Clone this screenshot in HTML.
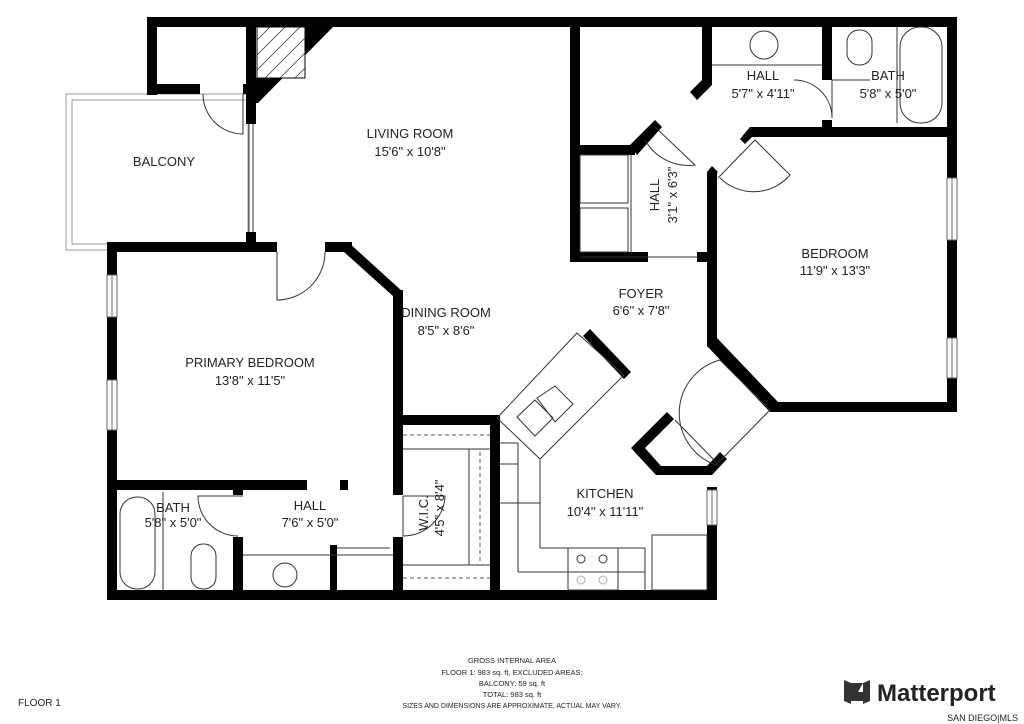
<!DOCTYPE html>
<html><head><meta charset="utf-8"><style>
html,body{margin:0;padding:0;background:#fff;width:1024px;height:724px;overflow:hidden}
svg{display:block}
text{font-family:"Liberation Sans",sans-serif;fill:#222}
</style></head><body>
<svg width="1024" height="724" viewBox="0 0 1024 724" xmlns="http://www.w3.org/2000/svg">
<!-- balcony outline -->
<g fill="none" stroke="#999" stroke-width="1">
<rect x="66" y="94" width="182" height="156"/>
<rect x="72" y="100" width="176" height="144"/>
</g>
<rect x="67" y="95" width="4" height="154" fill="#fff"/>
<g fill="#000">
<!-- top wall -->
<rect x="147" y="17" width="810" height="10"/>
<!-- top-left box -->
<rect x="147" y="17" width="10" height="78"/>
<rect x="147" y="84" width="53" height="10"/>
<rect x="243" y="84" width="13" height="10"/>
<rect x="246" y="17" width="10" height="107"/>
<polygon points="305,27 333,27 258,103 256,103 256,78 283,78"/>
<rect x="246" y="232" width="10" height="18"/>
<!-- primary bedroom top wall -->
<rect x="107" y="242" width="170" height="10"/>
<rect x="325" y="242" width="27" height="10"/>
<polygon points="348,242 403,292 403,300 393,300 393,296 344,252"/>
<rect x="393" y="290" width="10" height="200"/>
<!-- left wall -->
<rect x="107" y="242" width="10" height="358"/>
<!-- bottom wall -->
<rect x="107" y="590" width="610" height="10"/>
<!-- primary bedroom bottom -->
<rect x="107" y="480" width="200" height="10"/>
<rect x="340" y="480" width="8" height="10"/>
<!-- bath/hall divider -->
<rect x="233" y="490" width="10" height="5"/>
<rect x="233" y="537" width="10" height="55"/>
<!-- hall/wic -->
<rect x="393" y="480" width="10" height="15"/>
<rect x="393" y="537" width="10" height="55"/>
<rect x="330" y="545" width="7" height="47"/>
<!-- WIC -->
<rect x="398" y="415" width="99" height="10"/>
<rect x="490" y="415" width="10" height="180"/>
<!-- kitchen right -->
<rect x="707" y="487" width="10" height="113"/>
<!-- pantry -->
<polygon points="667,412 674,419 645,448 661,466 707,466 720,452 727,459 712,475 656,475 631,448"/>
<!-- bedroom -->
<rect x="707" y="172" width="10" height="168"/>
<polygon points="707,338 717,338 778,402 778,412 770,412 707,346"/>
<rect x="770" y="402" width="187" height="10"/>
<rect x="947" y="17" width="10" height="395"/>
<rect x="750" y="127" width="207" height="10"/>
<polygon points="750,127 758,127 758,137 752,137 745,144 740,139"/>
<polygon points="707,172 717,172 717,182 707,182"/>
<polygon points="707,172 712,166 718,172 712,178"/>
<!-- hall top area -->
<rect x="570" y="17" width="10" height="245"/>
<rect x="570" y="145" width="65" height="10"/>
<polygon points="630,145 655,120 662,127 637,155"/>
<polygon points="690,92 702,80 702,72 712,72 712,85 697,100"/>
<rect x="702" y="17" width="10" height="65"/>
<rect x="822" y="17" width="10" height="63"/>
<rect x="822" y="120" width="10" height="17"/>
<rect x="570" y="252" width="78" height="10"/>
<rect x="697" y="252" width="20" height="10"/>
<!-- island end -->
<polygon points="583,336 590,329 631,372 624,379"/>
</g>
<!-- fireplace hatch -->
<rect x="257" y="27" width="48" height="51" fill="#fff" stroke="#000"/>
<g stroke="#333" stroke-width="0.8">
<line x1="257" y1="40" x2="270" y2="27"/><line x1="257" y1="55" x2="285" y2="27"/><line x1="257" y1="70" x2="300" y2="27"/><line x1="265" y1="78" x2="305" y2="38"/><line x1="280" y1="78" x2="305" y2="53"/><line x1="295" y1="78" x2="305" y2="68"/>
</g>
<!-- windows -->
<g fill="#fff" stroke="#666" stroke-width="1">
<rect x="107" y="275" width="10" height="42"/><rect x="107" y="380" width="10" height="50"/>
<rect x="947" y="178" width="10" height="62"/><rect x="947" y="338" width="10" height="40"/>
<rect x="707" y="490" width="10" height="35"/>
</g>
<g stroke="#666" stroke-width="1">
<line x1="112" y1="275" x2="112" y2="317"/><line x1="112" y1="380" x2="112" y2="430"/>
<line x1="952" y1="178" x2="952" y2="240"/><line x1="952" y1="338" x2="952" y2="378"/>
<line x1="712" y1="490" x2="712" y2="525"/>
</g>
<!-- thin lines / doors -->
<g fill="none" stroke="#333" stroke-width="1">
<line x1="249" y1="124" x2="249" y2="232"/><line x1="253" y1="124" x2="253" y2="232"/>
<path d="M243,94 V134 A40,40 0 0 1 203,94"/>
<path d="M277,252 V300 A48,48 0 0 0 325,252"/>
<path d="M243,496 H198 A40,40 0 0 0 238,536"/>
<path d="M403,496 V536 A42,42 0 0 0 445,496 H403"/>
<path d="M832,80 V118 A38,38 0 0 0 794,80"/>
<line x1="832" y1="80" x2="870" y2="80"/>
<path d="M655,127 L695,165 A50,50 0 0 1 645,140"/>
<path d="M718,178 L755,140 L790,175 A48,48 0 0 1 720,178"/>
<path d="M716,465 L770,410 L720,360 A55,55 0 0 0 716,465"/>
<line x1="675" y1="420" x2="716" y2="462"/>
<!-- island -->
<polygon points="577,333 624,375 540,459 497,418"/>
<polygon points="537,398 555,386 573,404 555,422"/>
<polygon points="517,417 535,400 553,418 535,436"/>
<!-- hall top -->
<line x1="712" y1="65" x2="822" y2="65"/>
<circle cx="764" cy="45" r="14"/>
<!-- bath top -->
<rect x="847" y="30" width="25" height="35" rx="12"/>
<rect x="900" y="27" width="42" height="96" rx="20"/>
<line x1="897" y1="27" x2="897" y2="123"/>
<!-- closets -->
<rect x="580" y="155" width="48" height="48"/><rect x="580" y="208" width="48" height="44"/>
<line x1="631" y1="155" x2="631" y2="252"/>
<line x1="580" y1="257" x2="697" y2="257"/>
<!-- primary bath -->
<rect x="120" y="497" width="35" height="92" rx="17"/>
<line x1="163" y1="492" x2="163" y2="590"/>
<rect x="191" y="544" width="25" height="45" rx="12"/>
<line x1="243" y1="555" x2="393" y2="555"/>
<circle cx="285" cy="575" r="12"/>
<line x1="337" y1="548" x2="390" y2="548"/>
<!-- WIC shelves -->
<line x1="403" y1="449" x2="490" y2="449"/><line x1="403" y1="565" x2="490" y2="565"/>
<line x1="469" y1="449" x2="469" y2="565"/>
<!-- kitchen -->
<line x1="500" y1="443" x2="518" y2="443"/>
<line x1="518" y1="443" x2="518" y2="572"/>
<line x1="540" y1="460" x2="540" y2="548"/>
<line x1="500" y1="464" x2="518" y2="464"/>
<line x1="500" y1="503" x2="540" y2="503"/>
<line x1="540" y1="548" x2="645" y2="548"/>
<line x1="518" y1="572" x2="645" y2="572"/>
<line x1="645" y1="548" x2="645" y2="590"/>
<rect x="568" y="548" width="50" height="42"/>
<rect x="652" y="535" width="55" height="55"/>
<circle cx="581" cy="559" r="4"/><circle cx="603" cy="559" r="4"/>
<circle cx="581" cy="580" r="4" stroke="#aaa"/><circle cx="603" cy="580" r="4" stroke="#aaa"/>
</g>
<g fill="none" stroke="#555" stroke-dasharray="4,3">
<line x1="403" y1="435" x2="490" y2="435"/><line x1="403" y1="578" x2="490" y2="578"/>
<line x1="480" y1="452" x2="480" y2="562"/>
</g>
<!-- labels -->
<g font-size="13" text-anchor="middle">
<text x="410" y="138">LIVING ROOM</text><text x="410" y="156">15'6" x 10'8"</text>
<text x="164" y="166">BALCONY</text>
<text x="446" y="317">DINING ROOM</text><text x="446" y="335">8'5" x 8'6"</text>
<text x="641" y="298">FOYER</text><text x="641" y="315">6'6" x 7'8"</text>
<text x="835" y="258">BEDROOM</text><text x="835" y="275">11'9" x 13'3"</text>
<text x="763" y="80">HALL</text><text x="763" y="98">5'7" x 4'11"</text>
<text x="888" y="80">BATH</text><text x="888" y="98">5'8" x 5'0"</text>
<text x="250" y="367">PRIMARY BEDROOM</text><text x="250" y="385">13'8" x 11'5"</text>
<text x="173" y="512">BATH</text><text x="173" y="527">5'8" x 5'0"</text>
<text x="310" y="510">HALL</text><text x="310" y="527">7'6" x 5'0"</text>
<text x="605" y="498">KITCHEN</text><text x="605" y="516">10'4" x 11'11"</text>
<text transform="translate(428,513) rotate(-90)">W.I.C.</text>
<text transform="translate(444,508) rotate(-90)">4'5" x 8'4"</text>
<text transform="translate(659,195) rotate(-90)">HALL</text>
<text transform="translate(677,195) rotate(-90)">3'1" x 6'3"</text>
</g>
<g font-size="7.5" text-anchor="middle" fill="#333">
<text x="512" y="663">GROSS INTERNAL AREA</text>
<text x="512" y="675">FLOOR 1: 983 sq. ft, EXCLUDED AREAS:</text>
<text x="512" y="686">BALCONY: 59 sq. ft</text>
<text x="512" y="697">TOTAL: 983 sq. ft</text>
<text x="512" y="708" fill="#aaa" font-size="7">SIZES AND DIMENSIONS ARE APPROXIMATE, ACTUAL MAY VARY.</text>
</g>
<text x="18" y="706" font-size="10" fill="#888">FLOOR 1</text>
<g fill="#333">
<polygon points="844,680 851,683 851,704 844,701"/>
<polygon points="851,683 863,683 858,692 863,692 863,701 851,701"/>
<polygon points="863,683 870,680 870,701 863,704"/>
</g>
<text x="877" y="701" font-size="24" font-weight="bold" fill="#333">Matterport</text>
<text x="1018" y="721" font-size="9" fill="#888" text-anchor="end">SAN DIEGO|MLS</text>
</svg>
</body></html>
